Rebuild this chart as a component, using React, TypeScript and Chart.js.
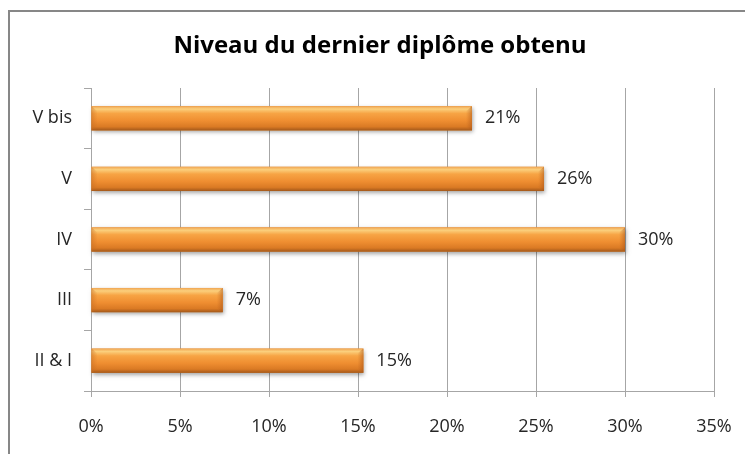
import React, { useEffect, useRef } from "react";
import { Chart, registerables } from "chart.js";

Chart.register(...registerables);

const categories = ["V bis", "V", "IV", "III", "II & I"];
const values = [21.4, 25.45, 30.0, 7.4, 15.3];
const valueLabels = ["21%", "26%", "30%", "7%", "15%"];
const titleText = "Niveau du dernier diplôme obtenu";
const xMin = 0;
const xMax = 35;
const xStep = 5;

const FONT = "'Open Sans', Lato, sans-serif";

const framePlugin = {
  id: "frame",
  beforeDraw(chart: any) {
    const ctx = chart.ctx;
    ctx.save();
    ctx.fillStyle = "#ffffff";
    ctx.fillRect(0, 0, chart.width, chart.height);
    ctx.strokeStyle = "#878787";
    ctx.lineWidth = 2;
    ctx.beginPath();
    ctx.moveTo(9, chart.height + 5);
    ctx.lineTo(9, 11);
    ctx.lineTo(chart.width + 5, 11);
    ctx.stroke();
    // title
    ctx.fillStyle = "#000000";
    ctx.font = `bold 24px ${FONT}`;
    ctx.textAlign = "center";
    ctx.textBaseline = "alphabetic";
    ctx.fillText(titleText, 380, 53);
    ctx.restore();
  },
};

const barStylePlugin = {
  id: "barStyle",
  afterDatasetsDraw(chart: any) {
    const ctx = chart.ctx;
    const meta = chart.getDatasetMeta(0);
    ctx.save();
    meta.data.forEach((bar: any, i: number) => {
      const { x, y, base, height } = bar.getProps(["x", "y", "base", "height"], true);
      const top = y - height / 2;
      const left = Math.min(base, x);
      const w = Math.abs(x - base);
      ctx.save();
      ctx.shadowColor = "rgba(0,0,0,0.35)";
      ctx.shadowBlur = 4;
      ctx.shadowOffsetX = 1;
      ctx.shadowOffsetY = 2;
      ctx.fillStyle = "#e0842a";
      ctx.fillRect(left, top, w, height);
      ctx.restore();
      const g = ctx.createLinearGradient(0, top, 0, top + height);
      g.addColorStop(0, "#f0a552");
      g.addColorStop(0.12, "#fbcf7c");
      g.addColorStop(0.3, "#f7a444");
      g.addColorStop(0.6, "#ef8e31");
      g.addColorStop(0.85, "#da7a24");
      g.addColorStop(1, "#a3581a");
      ctx.fillStyle = g;
      ctx.fillRect(left, top, w, height);
      const gr = ctx.createLinearGradient(x - 6, 0, x, 0);
      gr.addColorStop(0, "rgba(190,100,30,0)");
      gr.addColorStop(1, "rgba(170,85,25,0.55)");
      ctx.fillStyle = gr;
      ctx.beginPath();
      ctx.moveTo(x - 6, top + 5);
      ctx.lineTo(x, top);
      ctx.lineTo(x, top + height);
      ctx.lineTo(x - 6, top + height - 4);
      ctx.closePath();
      ctx.fill();
      const gl = ctx.createLinearGradient(left, 0, left + 6, 0);
      gl.addColorStop(0, "rgba(200,110,35,0.5)");
      gl.addColorStop(1, "rgba(200,110,35,0)");
      ctx.fillStyle = gl;
      ctx.beginPath();
      ctx.moveTo(left, top);
      ctx.lineTo(left + 6, top + 5);
      ctx.lineTo(left + 6, top + height - 4);
      ctx.lineTo(left, top + height);
      ctx.closePath();
      ctx.fill();
      ctx.fillStyle = "#262626";
      ctx.font = `18px ${FONT}`;
      ctx.textAlign = "left";
      ctx.textBaseline = "middle";
      ctx.fillText(valueLabels[i], x + 13, y);
    });
    ctx.restore();
  },
};

export default function App() {
  const ref = useRef<HTMLCanvasElement | null>(null);
  useEffect(() => {
    if (!ref.current) return;
    const chart = new Chart(ref.current, {
      type: "bar",
      data: {
        labels: categories,
        datasets: [
          {
            data: values,
            backgroundColor: "rgba(0,0,0,0)",
            borderWidth: 0,
            barPercentage: 0.4,
            categoryPercentage: 1,
          },
        ],
      },
      options: {
        indexAxis: "y",
        animation: false,
        responsive: false,
        maintainAspectRatio: false,
        layout: { padding: { left: 10, right: 31, top: 88, bottom: 21 } },
        plugins: {
          legend: { display: false },
          tooltip: { enabled: false },
          title: { display: false },
        },
        scales: {
          x: {
            min: xMin,
            max: xMax,
            afterFit(scale: any) {
              scale.height = 42;
              scale.paddingLeft = 0;
              scale.paddingRight = 0;
            },
            ticks: {
              stepSize: xStep,
              color: "#262626",
              font: { family: FONT, size: 18 },
              padding: 19,
              callback: (v: any) => `${v}%`,
            },
            grid: {
              color: "#a6a6a6",
              lineWidth: 1,
              tickLength: 6,
            },
            border: { color: "#a6a6a6" },
          },
          y: {
            afterFit(scale: any) {
              scale.width = 81;
              scale.paddingTop = 0;
              scale.paddingBottom = 0;
            },
            ticks: {
              color: "#262626",
              font: { family: FONT, size: 18 },
              padding: 12,
            },
            grid: {
              drawOnChartArea: false,
              color: "#a6a6a6",
              tickLength: 7,
              offset: true,
            },
            border: { color: "#a6a6a6" },
          },
        },
      },
      plugins: [framePlugin, barStylePlugin],
    });
    return () => chart.destroy();
  }, []);
  return (
    <div style={{ position: "fixed", left: 0, top: 0, width: 745, height: 454 }}>
      <canvas ref={ref} width={745} height={454} style={{ width: 745, height: 454 }} />
    </div>
  );
}
